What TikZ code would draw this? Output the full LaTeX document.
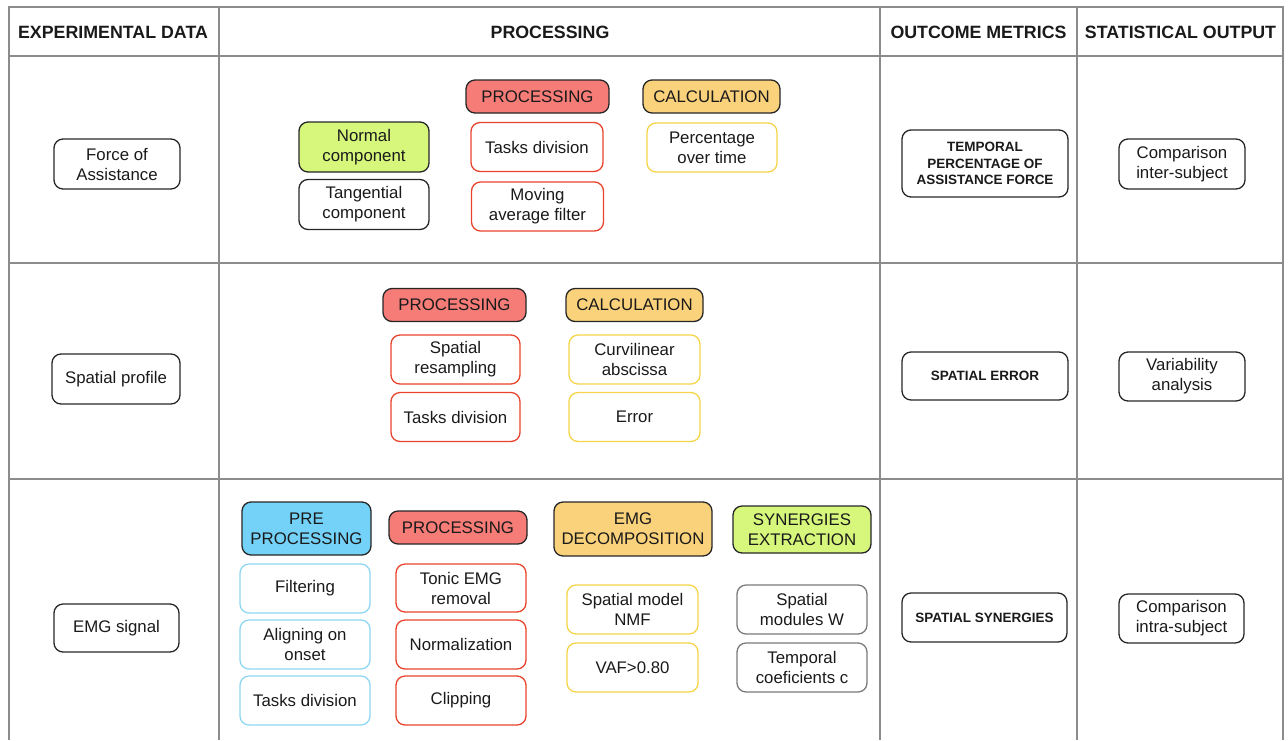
\documentclass[tikz,border=0pt]{standalone}
\usepackage{fontspec}
\setmainfont{Liberation Sans}
\definecolor{gridc}{HTML}{8C8C8C}
\definecolor{txt}{HTML}{1A1A1A}
\definecolor{limef}{HTML}{D6F77C}
\definecolor{redf}{HTML}{F67C78}
\definecolor{orangef}{HTML}{FBD27C}
\definecolor{bluef}{HTML}{74D2F8}
\definecolor{redb}{HTML}{E8432C}
\definecolor{yelb}{HTML}{F5D449}
\definecolor{blueb}{HTML}{8ED6F2}
\definecolor{grayb}{HTML}{7A7A7A}
\tikzset{
  grid/.style={draw=gridc, line width=1.4pt},
  hdrtext/.style={font=\fontsize{17.8}{20}\selectfont\bfseries, text=txt},
  box/.style={rounded corners=9pt, line width=1.3pt, align=center, inner sep=0pt,
     font=\fontsize{16.8}{20}\selectfont, text=txt},
  blk/.style={box, draw=black!85},
  redbox/.style={box, draw=redb},
  yelbox/.style={box, draw=yelb},
  bluebox/.style={box, draw=blueb},
  graybox/.style={box, draw=grayb},
  hdrbox/.style={box, draw=black!85},
  metric/.style={blk, font=\fontsize{13.5}{16.3}\selectfont\bfseries},
}
\begin{document}
\begin{tikzpicture}[x=1pt,y=-1pt]
\useasboundingbox (0,0) rectangle (1288,740);
% grid
\draw[grid] (9,740) -- (9,7) -- (1283,7) -- (1283,740);
\draw[grid] (9,56) -- (1283,56);
\draw[grid] (9,263) -- (1283,263);
\draw[grid] (9,479) -- (1283,479);
\draw[grid] (219,7) -- (219,740);
\draw[grid] (880,7) -- (880,740);
\draw[grid] (1077,7) -- (1077,740);
% headers
\node[hdrtext] (h1) at (113,32) {EXPERIMENTAL DATA};
\node[hdrtext] (h2) at (550,32) {PROCESSING};
\node[hdrtext] (h3) at (978.5,32) {OUTCOME METRICS};
\node[hdrtext] (h4) at (1180.5,32) {STATISTICAL OUTPUT};
% row 1
\node[blk, minimum width=126, minimum height=50] (fa) at (117,164) {Force of\\Assistance};
\node[hdrbox, fill=limef, minimum width=130, minimum height=50] (nc) at (364,147) {Normal\\component};
\node[blk, minimum width=130, minimum height=50] (tc) at (364,204.5) {Tangential\\component};
\node[hdrbox, fill=redf, minimum width=143, minimum height=33] (p1) at (537.5,96.5) {PROCESSING};
\node[redbox, minimum width=132, minimum height=49] (td1) at (537,147) {Tasks division};
\node[redbox, minimum width=132, minimum height=49] (ma) at (537.5,206.5) {Moving\\average filter};
\node[hdrbox, fill=orangef, minimum width=137, minimum height=33] (c1) at (711.5,96.5) {CALCULATION};
\node[yelbox, minimum width=130, minimum height=49] (pt) at (712,147.5) {Percentage\\over time};
\node[metric, minimum width=166, minimum height=67] (m1) at (985,163.5) {TEMPORAL\\PERCENTAGE OF\\ASSISTANCE FORCE};
\node[blk, minimum width=126, minimum height=50] (s1) at (1182,164) {Comparison\\inter-subject};
% row 2
\node[blk, minimum width=128, minimum height=50] (sp) at (116,379) {Spatial profile};
\node[hdrbox, fill=redf, minimum width=143, minimum height=33] (p2) at (454.5,305) {PROCESSING};
\node[redbox, minimum width=129, minimum height=49] (sr) at (455.5,359.5) {Spatial\\resampling};
\node[redbox, minimum width=129, minimum height=49] (td2) at (455.5,417) {Tasks division};
\node[hdrbox, fill=orangef, minimum width=137, minimum height=33] (c2) at (634.5,305) {CALCULATION};
\node[yelbox, minimum width=131, minimum height=49] (ca) at (634.5,359.5) {Curvilinear\\abscissa};
\node[yelbox, minimum width=131, minimum height=49] (er) at (634.5,417) {Error};
\node[metric, minimum width=166, minimum height=48] (m2) at (985,376) {SPATIAL ERROR};
\node[blk, minimum width=126, minimum height=49] (s2) at (1182,376.5) {Variability\\analysis};
% row 3
\node[blk, minimum width=125, minimum height=48] (emg) at (116.5,628) {EMG signal};
\node[hdrbox, fill=bluef, minimum width=129, minimum height=53] (pp) at (306.5,528.5) {PRE\\PROCESSING};
\node[hdrbox, fill=redf, minimum width=138, minimum height=33] (p3) at (458,527.5) {PROCESSING};
\node[hdrbox, fill=orangef, minimum width=158, minimum height=54] (ed) at (633,529) {EMG\\DECOMPOSITION};
\node[hdrbox, fill=limef, minimum width=138, minimum height=47] (se) at (802,529.5) {SYNERGIES\\EXTRACTION};
\node[bluebox, minimum width=130, minimum height=49] (fi) at (305,588.5) {Filtering};
\node[bluebox, minimum width=130, minimum height=49] (al) at (305,644.5) {Aligning on\\onset};
\node[bluebox, minimum width=130, minimum height=49] (td3) at (305,700.5) {Tasks division};
\node[redbox, minimum width=130, minimum height=48] (te) at (461,588) {Tonic EMG\\removal};
\node[redbox, minimum width=130, minimum height=49] (no) at (461,644.5) {Normalization};
\node[redbox, minimum width=130, minimum height=49] (cl) at (461,700.5) {Clipping};
\node[yelbox, minimum width=131, minimum height=49] (nmf) at (632.5,609.5) {Spatial model\\NMF};
\node[yelbox, minimum width=131, minimum height=49] (vaf) at (632.5,667.5) {VAF>0.80};
\node[graybox, minimum width=130, minimum height=49] (sm) at (802,609.5) {Spatial\\modules W};
\node[graybox, minimum width=130, minimum height=49] (tco) at (802,667.5) {Temporal\\coeficients c};
\node[metric, minimum width=165, minimum height=49] (m3) at (984.5,617.5) {SPATIAL SYNERGIES};
\node[blk, minimum width=125, minimum height=49] (s3) at (1181.5,618.5) {Comparison\\intra-subject};
\end{tikzpicture}
\end{document}
